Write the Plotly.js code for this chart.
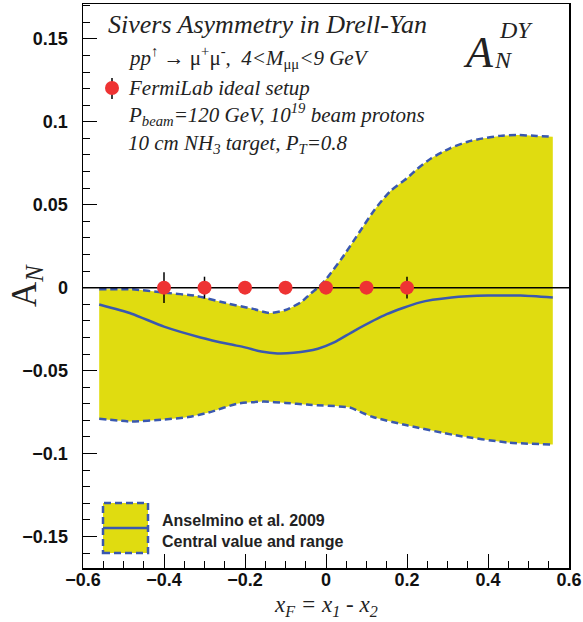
<!DOCTYPE html>
<html>
<head>
<meta charset="utf-8">
<script src="https://cdn.plot.ly/plotly-3.0.1.min.js"></script>
<style>html,body{margin:0;padding:0;background:#fff;}#chart{width:583px;height:622px;}</style>
</head>
<body>
<div id="chart"></div>
<script>
// ---- Data ----
const X_RANGE = [-0.6, 0.6];
const Y_RANGE = [-0.169, 0.171];

// Upper edge of the Anselmino et al. 2009 band
const upperX = [-0.56, -0.48, -0.40, -0.32, -0.24, -0.18, -0.14, -0.10, -0.06, -0.04, -0.02, 0.00, 0.04, 0.084, 0.12, 0.158, 0.20, 0.225, 0.26, 0.306, 0.35, 0.388, 0.43, 0.47, 0.52, 0.56];
const upperY = [-0.001, -0.001, -0.003, -0.005, -0.0097, -0.0128, -0.0153, -0.0135, -0.0085, -0.004, 0.000, 0.005, 0.018, 0.034, 0.047, 0.058, 0.066, 0.0715, 0.078, 0.084, 0.088, 0.090, 0.0915, 0.092, 0.0915, 0.091];

// Central value
const centralX = [-0.56, -0.48, -0.40, -0.31, -0.24, -0.20, -0.16, -0.12, -0.08, -0.02, 0.02, 0.07, 0.15, 0.23, 0.31, 0.40, 0.48, 0.56];
const centralY = [-0.0102, -0.0157, -0.0235, -0.030, -0.034, -0.036, -0.0385, -0.0397, -0.0393, -0.0368, -0.033, -0.026, -0.016, -0.009, -0.006, -0.0048, -0.0048, -0.006];

// Lower edge of the band
const lowerX = [-0.56, -0.48, -0.40, -0.34, -0.29, -0.22, -0.155, -0.10, -0.047, 0.059, 0.09, 0.116, 0.20, 0.32, 0.45, 0.56];
const lowerY = [-0.079, -0.0807, -0.0795, -0.078, -0.0753, -0.070, -0.0687, -0.0695, -0.0705, -0.0723, -0.0755, -0.078, -0.083, -0.089, -0.0934, -0.0946];

// FermiLab ideal setup projected points
const fermiX = [-0.4, -0.3, -0.2, -0.1, 0.0, 0.1, 0.2];
const fermiY = [0, 0, 0, 0, 0, 0, 0];
const fermiErr = [0.0093, 0.0066, 0.003, 0.003, 0.003, 0.003, 0.0066];

const xTickVals = [-0.6, -0.4, -0.2, 0, 0.2, 0.4, 0.6];
const yTickVals = [-0.15, -0.1, -0.05, 0, 0.05, 0.1, 0.15];

// ---- Styles ----
const YELLOW = '#e0dc10';
const BLUE = '#3a58b0';
const RED = '#ee3333';
const SERIF = 'Liberation Serif, Times New Roman, serif';
const SANS = 'Liberation Sans, Arial, sans-serif';

const traces = [
  {x: lowerX, y: lowerY, mode: 'lines', type: 'scatter', line: {color: BLUE, width: 2.5, dash: '7px,4px', shape: 'spline', smoothing: 0.6}, hoverinfo: 'skip', showlegend: false},
  {x: upperX, y: upperY, mode: 'lines', type: 'scatter', fill: 'tonexty', fillcolor: YELLOW, line: {color: BLUE, width: 2.5, dash: '7px,4px', shape: 'spline', smoothing: 0.6}, hoverinfo: 'skip', showlegend: false},
  {x: centralX, y: centralY, mode: 'lines', type: 'scatter', line: {color: BLUE, width: 2.5, shape: 'spline', smoothing: 0.6}, hoverinfo: 'skip', showlegend: false},
  {x: X_RANGE, y: [0, 0], mode: 'lines', type: 'scatter', line: {color: 'black', width: 1.5}, hoverinfo: 'skip', showlegend: false},
  {x: fermiX, y: fermiY, mode: 'markers', type: 'scatter', marker: {color: RED, size: 14}, error_y: {type: 'data', array: fermiErr, visible: true, color: 'black', thickness: 1.5, width: 0}, showlegend: false}
];

function px2x(px) { return (px - 83) / 486; }
function py2y(py) { return (568 - py) / 564; }

const annotations = [
  {text: '<i>Sivers Asymmetry in Drell-Yan</i>', x: px2x(106), y: py2y(24), xanchor: 'left', yanchor: 'middle', font: {family: SERIF, size: 26, color: '#222'}},
  {text: '<i>pp</i><sup>↑</sup> → μ<sup>+</sup>μ<sup>-</sup><i>,  4&lt;M</i><sub>μμ</sub><i>&lt;9 GeV</i>', x: px2x(126), y: py2y(57), xanchor: 'left', yanchor: 'middle', font: {family: SERIF, size: 21, color: '#222'}},
  {text: '<i>FermiLab ideal setup</i>', x: px2x(126), y: py2y(88), xanchor: 'left', yanchor: 'middle', font: {family: SERIF, size: 21, color: '#222'}},
  {text: '<i>P</i><sub><i>beam</i></sub><i>=120 GeV, 10</i><sup><i>19</i></sup><i> beam protons</i>', x: px2x(126), y: py2y(115), xanchor: 'left', yanchor: 'middle', font: {family: SERIF, size: 21, color: '#222'}},
  {text: '<i>10 cm NH</i><sub><i>3</i></sub><i> target, P</i><sub><i>T</i></sub><i>=0.8</i>', x: px2x(126), y: py2y(144), xanchor: 'left', yanchor: 'middle', font: {family: SERIF, size: 21, color: '#222'}},
  // A_N^DY label
  {text: '<i>A</i>', x: px2x(478), y: py2y(52), xanchor: 'center', yanchor: 'middle', font: {family: SERIF, size: 44, color: '#222'}},
  {text: '<i>DY</i>', x: px2x(497), y: py2y(30), xanchor: 'left', yanchor: 'middle', font: {family: SERIF, size: 24, color: '#222'}},
  {text: '<i>N</i>', x: px2x(492), y: py2y(60), xanchor: 'left', yanchor: 'middle', font: {family: SERIF, size: 24, color: '#222'}},
  // legend texts
  {text: '<b>Anselmino et al. 2009</b>', x: px2x(160), y: py2y(520), xanchor: 'left', yanchor: 'middle', font: {family: SANS, size: 16, color: '#222'}},
  {text: '<b>Central value and range</b>', x: px2x(160), y: py2y(541), xanchor: 'left', yanchor: 'middle', font: {family: SANS, size: 16, color: '#222'}},
  // axis titles
  {text: 'A<sub><i>N</i></sub>', x: px2x(26), y: 0.5, textangle: -90, xanchor: 'center', yanchor: 'middle', font: {family: SERIF, size: 35, color: '#222'}},
  {text: '<i>x</i><sub><i>F</i></sub><i> = x</i><sub><i>1</i></sub><i> - x</i><sub><i>2</i></sub>', x: 0.5, y: py2y(606), xanchor: 'center', yanchor: 'middle', font: {family: SERIF, size: 23, color: '#222'}}
].map(a => Object.assign({xref: 'paper', yref: 'paper', showarrow: false}, a));

const shapes = [
  // legend box
  {type: 'rect', xref: 'paper', yref: 'paper', x0: px2x(103), x1: px2x(148), y0: py2y(553), y1: py2y(503), fillcolor: YELLOW, line: {color: BLUE, width: 2.5, dash: '7px,4px'}},
  {type: 'line', xref: 'paper', yref: 'paper', x0: px2x(103), x1: px2x(148), y0: py2y(528), y1: py2y(528), line: {color: BLUE, width: 2.5}},
  // FermiLab marker key
  {type: 'line', xref: 'paper', yref: 'paper', x0: px2x(112), x1: px2x(112), y0: py2y(99), y1: py2y(78), line: {color: 'black', width: 1.5}},
  {type: 'circle', xref: 'paper', yref: 'paper', x0: px2x(105), x1: px2x(119), y0: py2y(95), y1: py2y(81), fillcolor: RED, line: {color: RED, width: 0}}
];

const layout = {
  width: 583, height: 622,
  margin: {l: 83, r: 14, t: 4, b: 54},
  paper_bgcolor: 'white', plot_bgcolor: 'white',
  showlegend: false,
  xaxis: {
    range: X_RANGE, tickvals: xTickVals, ticks: 'inside', ticklen: 14, tickwidth: 1, tickcolor: 'black',
    minor: {dtick: 0.05, ticks: 'inside', ticklen: 7, tickwidth: 1, tickcolor: 'black', showgrid: false},
    showgrid: false, zeroline: false, showline: true, linecolor: 'black', linewidth: 1.5, mirror: true,
    tickfont: {family: SANS, size: 18, color: '#111', weight: 'bold'}, ticklabelstandoff: -5
  },
  yaxis: {
    range: Y_RANGE, tickvals: yTickVals, ticks: 'inside', ticklen: 14, tickwidth: 1, tickcolor: 'black',
    minor: {dtick: 0.01, ticks: 'inside', ticklen: 7, tickwidth: 1, tickcolor: 'black', showgrid: false},
    showgrid: false, zeroline: false, showline: true, linecolor: 'black', linewidth: 1.5, mirror: true,
    tickfont: {family: SANS, size: 18, color: '#111', weight: 'bold'}, ticklabelstandoff: 10
  },
  annotations: annotations,
  shapes: shapes
};

Plotly.newPlot('chart', traces, layout, {staticPlot: true, displayModeBar: false});
</script>
</body>
</html>
